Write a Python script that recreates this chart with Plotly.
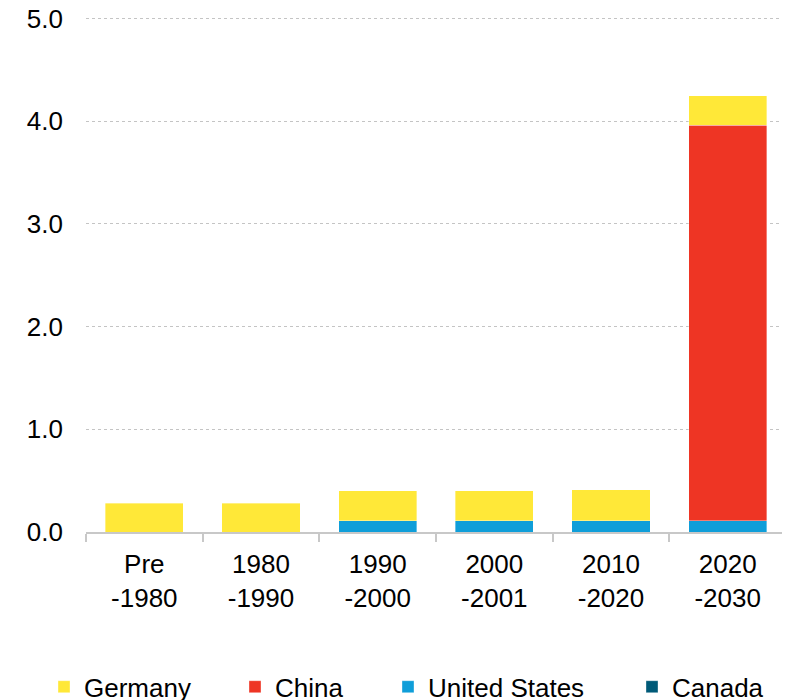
import plotly.graph_objects as go

periods = ["Pre<br>-1980", "1980<br>-1990", "1990<br>-2000", "2000<br>-2001", "2010<br>-2020", "2020<br>-2030"]
canada = [0, 0, 0, 0, 0, 0]
united_states = [0, 0, 0.11, 0.11, 0.11, 0.11]
china = [0, 0, 0, 0, 0, 3.85]
germany = [0.28, 0.28, 0.29, 0.29, 0.30, 0.29]
y_ticks = [0, 1, 2, 3, 4, 5]

FONT = "Liberation Sans, Arial, sans-serif"

fig = go.Figure()
series = [
    ("Canada", canada, "#005A78", "legend4"),
    ("United States", united_states, "#0F9ED9", "legend3"),
    ("China", china, "#EE3524", "legend2"),
    ("Germany", germany, "#FFE838", "legend"),
]
for name, vals, color, leg in series:
    fig.add_trace(go.Bar(
        x=periods, y=vals, name=name,
        marker=dict(color=color, line=dict(color="rgba(255,255,255,0.6)", width=0.6)),
        legend=leg,
    ))

leg_common = dict(orientation="h", y=-0.300, yanchor="middle", xanchor="left",
                  font=dict(size=26, color="#000", family=FONT),
                  bgcolor="rgba(0,0,0,0)", borderwidth=0)

fig.update_layout(
    width=782, height=692,
    margin=dict(l=78, r=4, t=8, b=168, autoexpand=False),
    paper_bgcolor="white", plot_bgcolor="white",
    barmode="stack", bargap=0.33,
    font=dict(family=FONT, size=26, color="#000"),
    showlegend=True,
    legend=dict(x=(44 - 86) / 700, **leg_common),
    legend2=dict(x=(235 - 86) / 700, **leg_common),
    legend3=dict(x=(388 - 86) / 700, **leg_common),
    legend4=dict(x=(632 - 86) / 700, **leg_common),
    xaxis=dict(
        type="category", showline=True, linecolor="#c8c8c8", linewidth=2,
        ticks="outside", tickson="boundaries", ticklen=8, tickcolor="#c8c8c8", tickwidth=2,
        showgrid=False, tickfont=dict(size=26, color="#000"), ticklabelstandoff=8,
    ),
    yaxis=dict(
        range=[0, 5.025], tickvals=y_ticks, tickformat=".1f",
        showgrid=True, gridcolor="#c4c4c4", gridwidth=1, griddash="dot",
        zeroline=False, showline=False, ticks="", ticklabelstandoff=22,
        ticklabeloverflow="allow",
        tickfont=dict(size=26, color="#000"),
    ),
)

fig.write_html("out.html")
